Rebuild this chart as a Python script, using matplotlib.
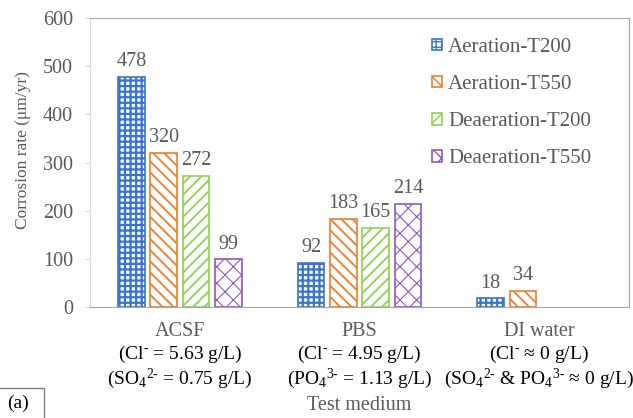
import matplotlib
matplotlib.use('Agg')
import matplotlib.pyplot as plt
import numpy as np
from matplotlib.patches import Rectangle

plt.rcParams['font.family'] = ['Liberation Serif', 'DejaVu Serif']
plt.rcParams['mathtext.fontset'] = 'custom'
plt.rcParams['mathtext.rm'] = 'Liberation Serif'
plt.rcParams['mathtext.default'] = 'regular'

media = ['ACSF', 'PBS', 'DI water']
chloride = [r'(Cl$^{\text{-}}$ = 5.63 g/L)',
            r'(Cl$^{\text{-}}$ = 4.95 g/L)',
            '(Cl$^{\\text{-}}$ \u2248 0 g/L)']
other_ions = [r'(SO$_4$$^{2\text{-}}$ = 0.75 g/L)',
              r'(PO$_4$$^{3\text{-}}$ = 1.13 g/L)',
              '(SO$_4$$^{2\\text{-}}$ & PO$_4$$^{3\\text{-}}$ \u2248 0 g/L)']
series = ['Aeration-T200', 'Aeration-T550', 'Deaeration-T200', 'Deaeration-T550']
aer_t200 = [478, 92, 18]
aer_t550 = [320, 183, 34]
deaer_t200 = [272, 165]
deaer_t550 = [99, 214]

colors = ['#3A75CC', '#F07D2C', '#8ED24E', '#9058C4']
hatches = ['+++', '\\\\\\', '///', 'xx']
hatch_lw = [1.6, 1.3, 1.3, 0.8]
offsets = [-0.27, -0.09, 0.09, 0.27]
gray = '#595959'
fs = 14.5

fig = plt.figure(figsize=(6.33, 4.18), dpi=100)
ax = fig.add_axes([90 / 633, 111 / 418, 539 / 633, 289 / 418])

for vals, name, c, h, lw, off in zip([aer_t200, aer_t550, deaer_t200, deaer_t550],
                                     series, colors, hatches, hatch_lw, offsets):
    x = np.arange(len(vals)) + off
    bars = ax.bar(x, vals, width=0.15, color='white', edgecolor=c, hatch=h,
                  linewidth=1.2, label=name)
    for b in bars:
        if hasattr(b, 'set_hatch_linewidth'):
            b.set_hatch_linewidth(lw)
    ax.bar_label(bars, labels=[str(v) for v in vals], padding=4,
                 fontsize=fs, color=gray)

ax.set_xlim(-0.5, 2.5)
ax.set_ylim(0, 600)
ax.set_yticks(range(0, 601, 100))
ax.set_xticks(range(3))
ax.set_xticklabels(media, fontsize=fs, color=gray)
ax.tick_params(axis='x', length=0, pad=11)
ax.tick_params(axis='y', labelsize=fs, labelcolor=gray, length=3.6,
               color='#D9D9D9', direction='out', pad=8.6)

# ion concentrations under each medium name
for i in range(3):
    ax.annotate(chloride[i], xy=(i, 0), xycoords=('data', 'axes fraction'),
                xytext=(0, -34), textcoords='offset points',
                ha='center', va='center', fontsize=14, color='black',
                annotation_clip=False)
    ax.annotate(other_ions[i], xy=(i, 0), xycoords=('data', 'axes fraction'),
                xytext=(0, -51.5), textcoords='offset points',
                ha='center', va='center', fontsize=14, color='black',
                annotation_clip=False)

for side in ['top', 'right', 'bottom']:
    ax.spines[side].set_color('#A6A6A6')
ax.spines['left'].set_color('#D9D9D9')

fig.text(23 / 633, (418 - 150) / 418, 'Corrosion rate (\u03bcm/yr)', rotation=90,
         ha='center', va='center', fontsize=12.5, color=gray)
fig.text((90 + 539 / 2) / 633, (418 - 406) / 418, 'Test medium',
         ha='center', va='center', fontsize=fs, color=gray)

ax.legend(loc='upper left', bbox_to_anchor=(0.6345, 0.931), frameon=False,
          borderpad=0, borderaxespad=0, fontsize=15, labelcolor=gray,
          handlelength=0.48, handleheight=0.48, handletextpad=0.3,
          labelspacing=0.87)

# panel tag in the lower-left corner
fig.patches.append(Rectangle((-0.01, -0.01), 44 / 633 + 0.01, 30 / 418 + 0.01,
                             transform=fig.transFigure, fill=False,
                             edgecolor='#808080', linewidth=1))
fig.text(7 / 633, 15 / 418, '(a)', fontsize=14, va='center', ha='left')

fig.savefig('out.png', dpi=100)
